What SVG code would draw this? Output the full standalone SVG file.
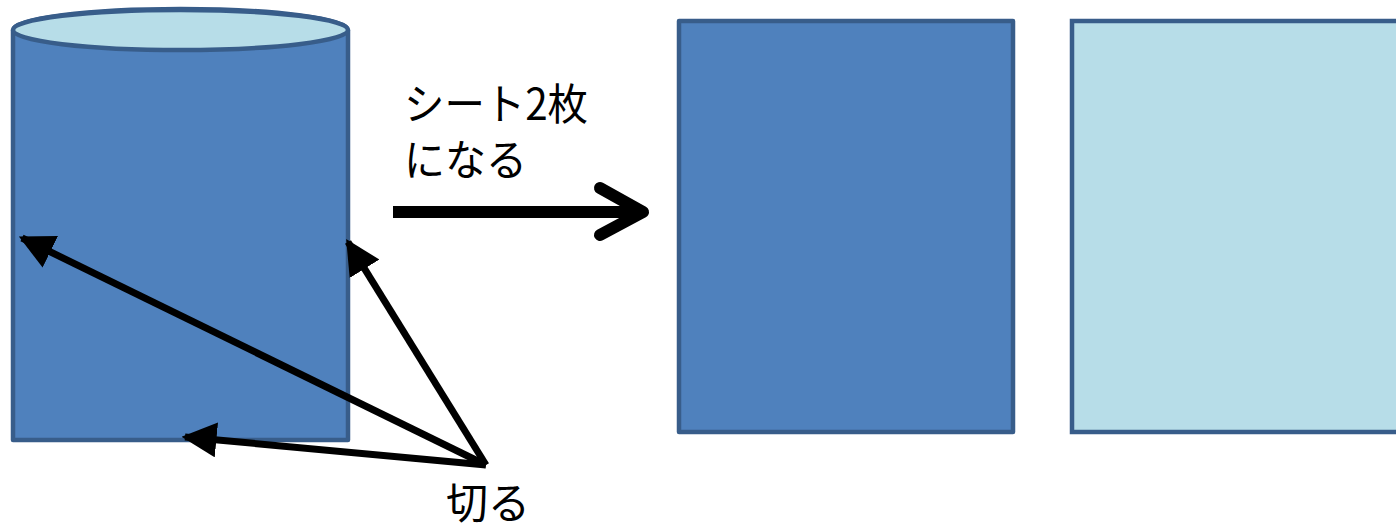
<svg xmlns="http://www.w3.org/2000/svg" width="1396" height="529" viewBox="0 0 1396 529">
<style>
.shape{fill:#4F81BD;stroke:#385D8A;stroke-width:4.5;stroke-linejoin:round}
.light{fill:#B7DDE8;stroke:#385D8A;stroke-width:4.5}
.lbl{font-family:"Noto Sans CJK JP","Liberation Sans",sans-serif;font-size:43px;fill:#000}
.conn{stroke:#000;stroke-width:7;fill:none}
</style>
<defs>
<marker id="ah" viewBox="0 0 10 10" refX="9" refY="5" markerWidth="5" markerHeight="5" orient="auto" markerUnits="strokeWidth">
<path d="M0,0 L10,5 L0,10 Z" fill="#000"/>
</marker>
</defs>
<rect width="1396" height="529" fill="#fff"/>
<g id="cylinder">
<path class="shape" d="M13,30 L13,440 L348,440 L348,30 A167.5,21 0 0 0 13,30 Z"/>
<ellipse class="light" cx="180.5" cy="30" rx="167.5" ry="20"/>
</g>
<g id="sheet1">
<rect class="shape" x="679" y="21" width="334" height="411"/>
</g>
<g id="sheet2">
<rect class="light" x="1072" y="21" width="340" height="411"/>
</g>
<g id="labels">
<text class="lbl" x="404" y="120" textLength="184" lengthAdjust="spacingAndGlyphs">シート2枚</text>
<text class="lbl" x="404" y="176" textLength="123" lengthAdjust="spacingAndGlyphs">になる</text>
<text class="lbl" x="446" y="519" textLength="84" lengthAdjust="spacingAndGlyphs">切る</text>
</g>
<g id="connectors">
<line class="conn" x1="486" y1="465" x2="22" y2="238" marker-end="url(#ah)"/>
<line class="conn" x1="486" y1="465" x2="348" y2="242" marker-end="url(#ah)"/>
<line class="conn" x1="486" y1="465" x2="185" y2="437" marker-end="url(#ah)"/>
<line x1="393" y1="212" x2="640" y2="212" stroke="#000" stroke-width="12"/>
<polyline points="600,188 643,212 600,235" stroke="#000" stroke-width="12" stroke-linecap="round" stroke-linejoin="round" fill="none"/>
</g>
</svg>
